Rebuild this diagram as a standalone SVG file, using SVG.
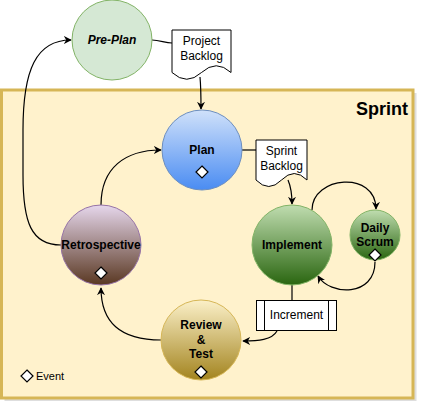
<svg xmlns="http://www.w3.org/2000/svg" width="424" height="413" viewBox="0 0 424 413">
<style>
.lbl{font-family:"Liberation Sans",Arial,sans-serif;font-size:12px;fill:#000;text-anchor:middle}
.b{font-weight:bold}
.dm{fill:#fff;stroke:#000;stroke-width:1.2}
.cn{fill:none;stroke:#000;stroke-width:1.2}
.doc{fill:#fff;stroke:#000;stroke-width:1}
</style>
<defs>
<linearGradient id="gBlue" x1="0" y1="0" x2="0" y2="1"><stop offset="0" stop-color="#d0e1fa"/><stop offset="1" stop-color="#4a8cf2"/></linearGradient>
<linearGradient id="gGreen" x1="0" y1="0" x2="0" y2="1"><stop offset="0" stop-color="#c0ddb0"/><stop offset="1" stop-color="#2a6610"/></linearGradient>
<linearGradient id="gPurple" x1="0" y1="0" x2="0" y2="1"><stop offset="0" stop-color="#e6d7ec"/><stop offset="1" stop-color="#5a3822"/></linearGradient>
<linearGradient id="gGold" x1="0" y1="0" x2="0" y2="1"><stop offset="0" stop-color="#fbf0c8"/><stop offset="1" stop-color="#a3841f"/></linearGradient>
<marker id="arr" viewBox="0 0 10 10" refX="9" refY="5" markerWidth="8" markerHeight="8" markerUnits="userSpaceOnUse" orient="auto">
<path d="M0,0 L10,5 L0,10 L3,5 Z" fill="#000"/>
</marker>
</defs>

<g id="sprint">
<rect x="4.5" y="93" width="412" height="308" fill="#c8c8c8" opacity="0.6"/>
<rect x="1.5" y="90" width="411.5" height="308" fill="#fff2cc" stroke="#d6b656" stroke-width="3"/>
<text x="408" y="115" style="font-family:'Liberation Sans',Arial,sans-serif;font-size:18px;font-weight:bold;text-anchor:end">Sprint</text>
</g>

<g id="connectors">
<path class="cn" d="M152,40 C160,40 165,43 172,43"/>
<path class="cn" d="M200,77 C201,88 201,96 201,109" marker-end="url(#arr)"/>
<path class="cn" d="M242,150 L256,150"/>
<path class="cn" d="M288,180 C291,187 292,193 292,204" marker-end="url(#arr)"/>
<path class="cn" d="M312,210 C312,176 376,170 376,209" marker-end="url(#arr)"/>
<path class="cn" d="M375,262 C375,297 330,296 318,276" marker-end="url(#arr)"/>
<path class="cn" d="M292,285 L292,300"/>
<path class="cn" d="M277,331 C272,340 258,341 243,341" marker-end="url(#arr)"/>
<path class="cn" d="M161,340 C120,340 101,322 101,288" marker-end="url(#arr)"/>
<path class="cn" d="M101,205 C101,168 125,150 161,150" marker-end="url(#arr)"/>
<path class="cn" d="M61,245 C31,245 23,222 23,175 L23,130 C23,70 36,40 71,40" marker-end="url(#arr)"/>
</g>

<g id="preplan">
<circle cx="112" cy="40" r="40" fill="#d5e8d4" stroke="#82b366"/>
<text class="lbl b" x="112" y="44" font-style="italic">Pre-Plan</text>
</g>

<g id="projectBacklog">
<path class="doc" d="M172,30 H231 V72.5 Q216.25,59 201.5,72.5 Q186.75,86 172,72.5 Z"/>
<text class="lbl" x="201.5" y="45">Project</text>
<text class="lbl" x="201.5" y="60">Backlog</text>
</g>

<g id="plan">
<circle cx="202" cy="150" r="40" fill="url(#gBlue)" stroke="#6c8ebf"/>
<text class="lbl b" x="202" y="154">Plan</text>
<path class="dm" d="M202,166 L208,172 L202,178 L196,172 Z"/>
</g>

<g id="sprintBacklog">
<path class="doc" d="M256,140 H307 V180 Q294.25,167 281.5,180 Q268.75,193 256,180 Z"/>
<text class="lbl" x="281.5" y="155">Sprint</text>
<text class="lbl" x="281.5" y="170">Backlog</text>
</g>

<g id="implement">
<circle cx="292" cy="245" r="40" fill="url(#gGreen)" stroke="#82b366"/>
<text class="lbl b" x="292" y="249">Implement</text>
</g>

<g id="dailyScrum">
<circle cx="375" cy="235" r="25" fill="url(#gGreen)" stroke="#82b366"/>
<text class="lbl b" x="375" y="232">Daily</text>
<text class="lbl b" x="375" y="246">Scrum</text>
<path class="dm" d="M375,249 L381,255 L375,261 L369,255 Z"/>
</g>

<g id="increment">
<rect x="256.5" y="300.5" width="80" height="30" fill="#fff" stroke="#000"/>
<line x1="264.5" y1="300.5" x2="264.5" y2="330.5" stroke="#000"/>
<line x1="328.5" y1="300.5" x2="328.5" y2="330.5" stroke="#000"/>
<text class="lbl" x="296.5" y="319">Increment</text>
</g>

<g id="review">
<circle cx="201" cy="340" r="40" fill="url(#gGold)" stroke="#d6b656"/>
<text class="lbl b" x="201" y="329">Review</text>
<text class="lbl b" x="201" y="344">&amp;</text>
<text class="lbl b" x="201" y="358">Test</text>
<path class="dm" d="M201,366 L207,372 L201,378 L195,372 Z"/>
</g>

<g id="retrospective">
<circle cx="101" cy="245" r="40" fill="url(#gPurple)" stroke="#9673a6"/>
<text class="lbl b" x="101" y="249">Retrospective</text>
<path class="dm" d="M101,267 L107,273 L101,279 L95,273 Z"/>
</g>

<g id="legend">
<path class="dm" d="M27,370 L33,376 L27,382 L21,376 Z"/>
<text x="36" y="380" style="font-family:'Liberation Sans',Arial,sans-serif;font-size:11px">Event</text>
</g>
</svg>
